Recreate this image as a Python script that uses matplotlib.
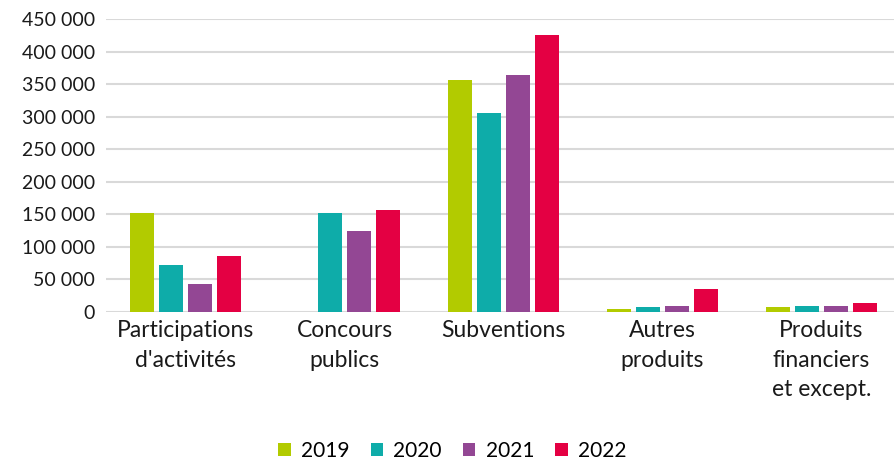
import matplotlib

matplotlib.use("Agg")
import matplotlib.pyplot as plt
import numpy as np
from matplotlib.ticker import FuncFormatter, MultipleLocator

plt.rcParams.update({
    "font.family": ["Lato", "DejaVu Sans"],
    "font.size": 14,
})

categories = ["Participations\nd'activités", "Concours\npublics", "Subventions",
              "Autres\nproduits", "Produits\nfinanciers\net except."]
years = ["2019", "2020", "2021", "2022"]
v2019 = [152000, 0, 357000, 4000, 7000]
v2020 = [72000, 152000, 305000, 7000, 9000]
v2021 = [43000, 124000, 364000, 10000, 9000]
v2022 = [86000, 156000, 425000, 35000, 13500]
colors = ["#b2cb00", "#0eaca9", "#934794", "#e40043"]

fig = plt.figure(figsize=(8.94, 4.65), dpi=100)
ax = fig.add_axes([106 / 894, 0.329, 795 / 894, 0.630])

x = np.arange(len(categories))
step, width = 0.1824, 0.145
for i, (vals, yr, c) in enumerate(zip([v2019, v2020, v2021, v2022], years, colors)):
    ax.bar(x + (i - 1.5) * step, vals, width=width, color=c, label=yr, zorder=3)

ax.set_xlim(-0.5, len(categories) - 0.5)
ax.set_ylim(0, 450000)
ax.yaxis.set_major_locator(MultipleLocator(50000))
ax.yaxis.set_major_formatter(FuncFormatter(lambda v, _: f"{int(v):,}".replace(",", " ")))
ax.grid(axis="y", color="#d9d9d9", lw=1.5, zorder=0)
for s in ax.spines.values():
    s.set_visible(False)
ax.tick_params(length=0, labelsize=14, colors="#1a1a1a")
ax.tick_params(axis="y", pad=8)
ax.tick_params(axis="x", pad=6)
ax.set_xticks(x)
ax.set_xticklabels(categories, va="top", linespacing=1.5, fontsize=16.5)

fig.legend(loc="lower center", ncol=4, frameon=False, fontsize=15,
           bbox_to_anchor=(0.506, -0.032), handlelength=0.6, handleheight=0.6,
           handletextpad=0.5, columnspacing=1.0)

fig.savefig("out.png")
